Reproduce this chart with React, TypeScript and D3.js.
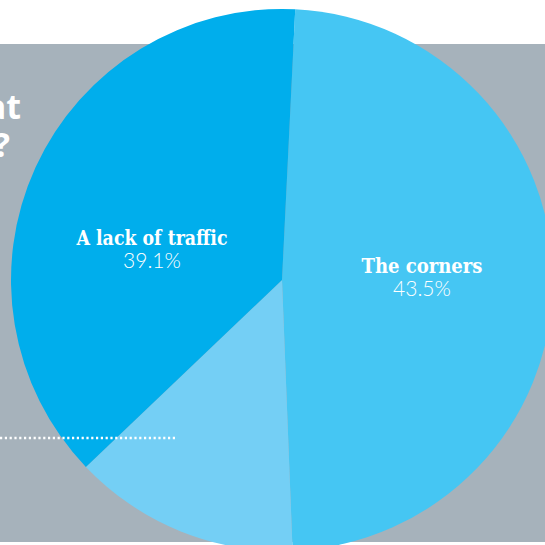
import React from "react";
import * as d3 from "d3";

// Slices in clockwise order from the top (shares estimated from the drawn geometry)
const categories = ["The corners", "Other", "A lack of traffic"];
const shares = [48.6, 13.5, 37.9];
const labels = ["43.5%", "", "39.1%"];
const colors = ["#45c6f3", "#74cff5", "#00aeec"];
const titleLines = ["at", "?"];

const W = 545;
const H = 545;

export default function App() {
  const cx = 282;
  const cy = 280;
  const r = 271;
  const startDeg = 2.8;
  const pie = d3
    .pie<number>()
    .sort(null)
    .startAngle((startDeg * Math.PI) / 180)
    .endAngle(((startDeg + 360) * Math.PI) / 180);
  const arcs = pie(shares);
  const arc = d3.arc<d3.PieArcDatum<number>>().innerRadius(0).outerRadius(r);

  const labelPos: Record<string, [number, number, number]> = {
    "The corners": [422 - cx, 273 - cy, 121],
    "A lack of traffic": [152 - cx, 245 - cy, 151],
  };

  return (
    <svg
      width={W}
      height={H}
      style={{ position: "absolute", left: 0, top: 0, background: "#fff" }}
    >
      <rect x={0} y={0} width={W} height={H} fill="#ffffff" />
      <rect x={0} y={44} width={W} height={498} fill="#a6b2bb" />
      {titleLines.map((t, i) => (
        <text
          key={t}
          x={i === 0 ? 21 : 10}
          y={i === 0 ? 119 : 157}
          textAnchor="end"
          fill="#ffffff"
          fontFamily="'Open Sans', Roboto, sans-serif"
          fontWeight={700}
          fontSize={34}
        >
          {t}
        </text>
      ))}
      <g transform={`translate(${cx},${cy})`}>
        {arcs.map((a, i) => (
          <path key={categories[i]} d={arc(a) || ""} fill={colors[i]} />
        ))}
        {arcs.map((a, i) => {
          const p = labelPos[categories[i]];
          if (!p || !labels[i]) return null;
          return (
            <g key={"l" + i} transform={`translate(${p[0]},${p[1]})`}>
              <text
                textAnchor="middle"
                fill="#ffffff"
                fontFamily="'DejaVu Serif', 'Liberation Serif', serif"
                fontWeight={700}
                fontSize={21}
                textLength={p[2]}
                lengthAdjust="spacingAndGlyphs"
              >
                {categories[i]}
              </text>
              <text
                y={23}
                textAnchor="middle"
                fill="#ffffff"
                fontFamily="Lato, 'Open Sans', sans-serif"
                fontWeight={300}
                fontSize={21}
              >
                {labels[i]}
              </text>
            </g>
          );
        })}
      </g>
      <line
        x1={0}
        x2={176}
        y1={438}
        y2={438}
        stroke="#ffffff"
        strokeWidth={2.5}
        strokeDasharray="2.2 2.6"
      />
    </svg>
  );
}
